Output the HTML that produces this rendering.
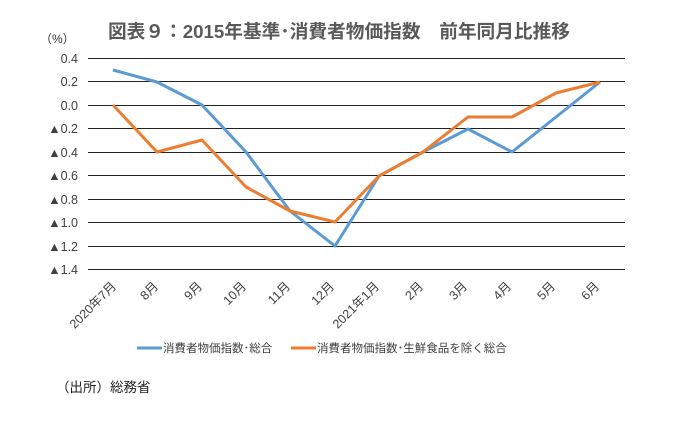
<!DOCTYPE html>
<html><head><meta charset="utf-8"><style>
body{margin:0;background:#fff;}
svg text{font-family:"Liberation Sans","Noto Sans CJK JP",sans-serif;}
</style></head><body>
<svg width="675" height="417" viewBox="0 0 675 417" xmlns="http://www.w3.org/2000/svg">
<text x="339" y="38" text-anchor="middle" font-size="18.5" font-weight="bold" fill="#595959" textLength="462" lengthAdjust="spacingAndGlyphs">図表９：2015年基準･消費者物価指数　前年同月比推移</text>
<text x="40" y="43" font-size="12" fill="#333">（%）</text>
<g stroke="#222" stroke-width="1">
<line x1="88" x2="625" y1="58.5" y2="58.5"/><line x1="88" x2="625" y1="81.5" y2="81.5"/>
<line x1="88" x2="625" y1="105.5" y2="105.5"/><line x1="88" x2="625" y1="128.5" y2="128.5"/>
<line x1="88" x2="625" y1="152.5" y2="152.5"/><line x1="88" x2="625" y1="175.5" y2="175.5"/>
<line x1="88" x2="625" y1="199.5" y2="199.5"/><line x1="88" x2="625" y1="222.5" y2="222.5"/>
<line x1="88" x2="625" y1="246.5" y2="246.5"/><line x1="88" x2="625" y1="269.5" y2="269.5"/>
</g>
<g font-size="12.5" fill="#404040" text-anchor="end">
<text x="78" y="63">0.4</text><text x="78" y="86">0.2</text><text x="78" y="110">0.0</text>
<text x="78" y="133">▲0.2</text><text x="78" y="157">▲0.4</text><text x="78" y="180">▲0.6</text>
<text x="78" y="204">▲0.8</text><text x="78" y="227">▲1.0</text><text x="78" y="251">▲1.2</text>
<text x="78" y="274">▲1.4</text>
</g>
<polyline fill="none" stroke="#5B9BD5" stroke-width="3" stroke-linejoin="round" points="113,70 157,82 202,105 246,152 290,211 335,246 379,176 423,152 468,129 512,152 556,117 600,82"/>
<polyline fill="none" stroke="#ED7D31" stroke-width="3" stroke-linejoin="round" points="113,105 157,152 202,140 246,187 290,211 335,222 379,176 423,152 468,117 512,117 556,93 600,82"/>
<g font-size="12.5" fill="#404040" text-anchor="end">
<text transform="translate(117,287) rotate(-45)">2020年7月</text>
<text transform="translate(159,287) rotate(-45)">8月</text>
<text transform="translate(203,287) rotate(-45)">9月</text>
<text transform="translate(247,287) rotate(-45)">10月</text>
<text transform="translate(291,287) rotate(-45)">11月</text>
<text transform="translate(335,287) rotate(-45)">12月</text>
<text transform="translate(380,287) rotate(-45)">2021年1月</text>
<text transform="translate(424,287) rotate(-45)">2月</text>
<text transform="translate(468,287) rotate(-45)">3月</text>
<text transform="translate(512,287) rotate(-45)">4月</text>
<text transform="translate(556,287) rotate(-45)">5月</text>
<text transform="translate(600,287) rotate(-45)">6月</text>
</g>
<line x1="137" x2="162" y1="348" y2="348" stroke="#5B9BD5" stroke-width="3"/>
<text x="163" y="352" font-size="11.5" fill="#404040">消費者物価指数･総合</text>
<line x1="291" x2="316" y1="348" y2="348" stroke="#ED7D31" stroke-width="3"/>
<text x="317" y="352" font-size="11.5" fill="#404040">消費者物価指数･生鮮食品を除く総合</text>
<text x="56" y="392" font-size="13.5" fill="#222">（出所）総務省</text>
</svg>
</body></html>
